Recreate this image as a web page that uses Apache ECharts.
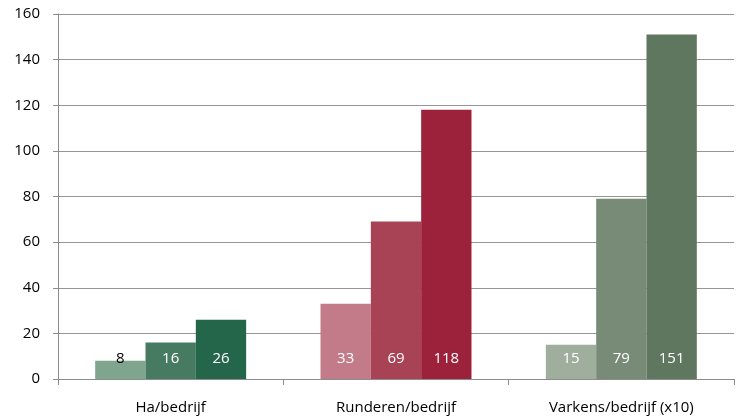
<!DOCTYPE html>
<html><head><meta charset="utf-8">
<script src="https://cdn.jsdelivr.net/npm/echarts@6/dist/echarts.min.js"></script>
<style>html,body{margin:0;padding:0;background:#fff}#c{width:739px;height:417px}</style>
</head><body><div id="c"></div>
<script>
const categories = ['Ha/bedrijf', 'Runderen/bedrijf', 'Varkens/bedrijf (x10)'];
const bar1 = [8, 33, 15];
const bar2 = [16, 69, 79];
const bar3 = [26, 118, 151];
const yTicks = [0, 20, 40, 60, 80, 100, 120, 140, 160];

const colors1 = ['#7fa58f', '#c37b8a', '#a0ae9e'];
const colors2 = ['#467b61', '#a84356', '#778b76'];
const colors3 = ['#246649', '#9c213a', '#5f775e'];
const labelColors1 = ['#000', '#fff', '#fff'];

const font = '"Open Sans", "Noto Sans", sans-serif';
function mk(vals, cols, lcols) {
  return {
    type: 'bar', barGap: '0%', barCategoryGap: '33%',
    data: vals.map((v, i) => ({
      value: v,
      itemStyle: { color: cols[i] },
      label: { color: lcols ? lcols[i] : '#fff' }
    })),
    label: { show: true, position: 'insideBottom', distance: 13, fontSize: 15, fontFamily: font, color: '#fff' },
    z: 1
  };
}
const chart = echarts.init(document.getElementById('c'));
chart.setOption({
  animation: false,
  grid: { left: 58, right: 5, top: 14, bottom: 38 },
  xAxis: {
    type: 'category', data: categories,
    axisLine: { lineStyle: { color: '#8c8c8c' } },
    axisTick: { show: true, length: 6, lineStyle: { color: '#8c8c8c' } },
    axisLabel: { color: '#000', fontSize: 15, fontFamily: font, margin: 21 }
  },
  yAxis: {
    type: 'value', min: 0, max: 160, interval: 20,
    axisLine: { show: true, lineStyle: { color: '#8c8c8c' } },
    axisTick: { show: true, length: 5, lineStyle: { color: '#8c8c8c' } },
    splitLine: { lineStyle: { color: '#969696', width: 1 } },
    axisLabel: { color: '#000', fontSize: 15, fontFamily: font, margin: 18,
      formatter: v => yTicks.includes(v) ? String(v) : '' }
  },
  series: [mk(bar1, colors1, labelColors1), mk(bar2, colors2), mk(bar3, colors3)]
});
</script></body></html>
